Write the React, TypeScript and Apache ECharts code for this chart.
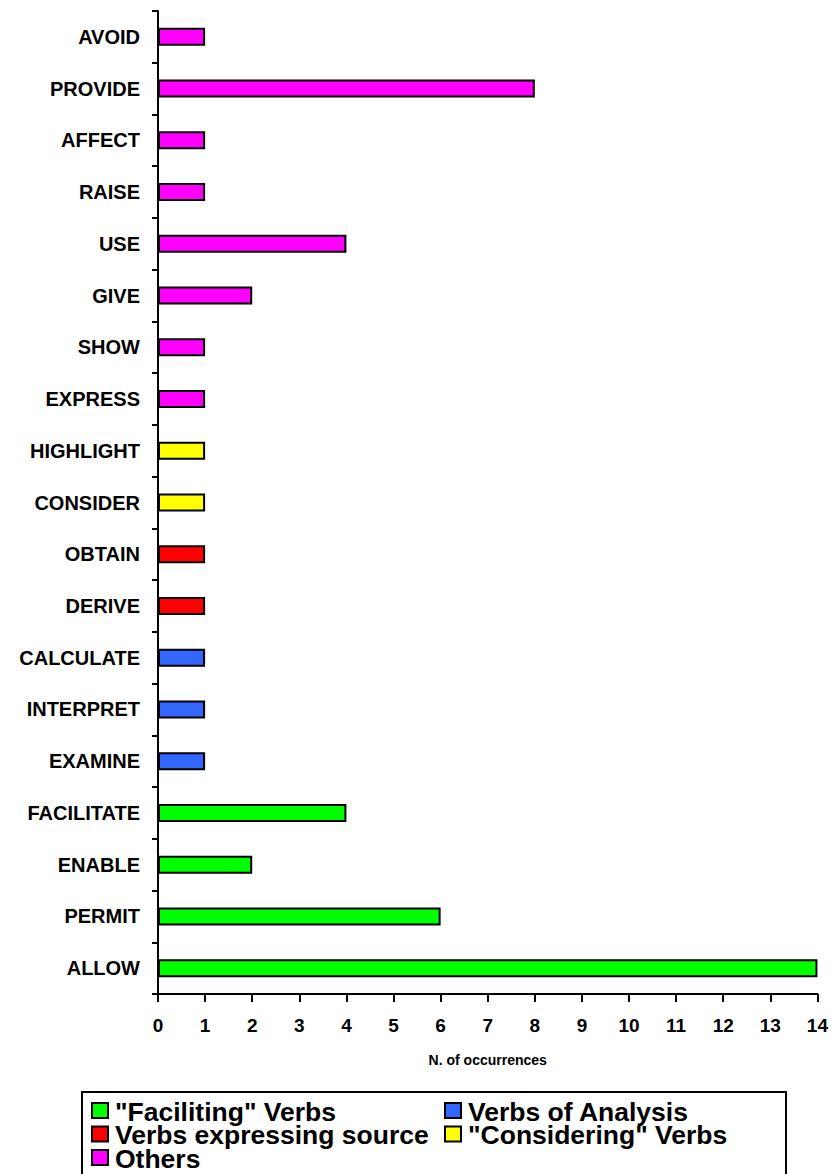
import React, { useEffect, useRef } from "react";
import * as echarts from "echarts";

// Categories listed bottom to top (as on the category axis)
const categories = [
  "ALLOW", "PERMIT", "ENABLE", "FACILITATE",
  "EXAMINE", "INTERPRET", "CALCULATE",
  "DERIVE", "OBTAIN",
  "CONSIDER", "HIGHLIGHT",
  "EXPRESS", "SHOW", "GIVE", "USE", "RAISE", "AFFECT", "PROVIDE", "AVOID",
];
const values = [14, 6, 2, 4, 1, 1, 1, 1, 1, 1, 1, 1, 1, 2, 4, 1, 1, 8, 1];
// group index of each category
const groupOf = [0, 0, 0, 0, 1, 1, 1, 2, 2, 3, 3, 4, 4, 4, 4, 4, 4, 4, 4];
const groupNames = [
  '"Faciliting" Verbs',
  "Verbs of Analysis",
  "Verbs expressing source",
  '"Considering" Verbs',
  "Others",
];
const groupColors = ["#00ff00", "#3366ff", "#ff0000", "#ffff00", "#ff00ff"];
const xTicks = [0, 14, 1]; // min, max, interval
const xName = "N. of occurrences";

const FONT = "'Liberation Sans', Arial, Helvetica, sans-serif";

export default function App() {
  const ref = useRef<HTMLDivElement>(null);
  useEffect(() => {
    if (!ref.current) return;
    const chart = echarts.init(ref.current, undefined, { renderer: "svg" });
    const series = groupNames.map((name, g) => ({
      name,
      type: "bar",
      stack: "all",
      barWidth: 18,
      itemStyle: { color: groupColors[g], borderColor: "#000", borderWidth: 2 },
      data: values.map((v, i) => (groupOf[i] === g ? v : null)),
    }));

    // legend drawn as graphic: two columns, rows top-down
    const legendSlots = [
      { g: 0, col: 0, row: 0 },
      { g: 1, col: 1, row: 0 },
      { g: 2, col: 0, row: 1 },
      { g: 3, col: 1, row: 1 },
      { g: 4, col: 0, row: 2 },
    ];
    const colX = [92, 445];
    const rowY = [1110.5, 1134, 1157.5];
    const legendGraphics: any[] = [
      {
        type: "rect",
        shape: { x: 82, y: 1092, width: 704, height: 120 },
        style: { fill: "#fff", stroke: "#000", lineWidth: 2 },
        z: 10,
      },
    ];
    legendSlots.forEach(({ g, col, row }) => {
      legendGraphics.push({
        type: "rect",
        shape: { x: colX[col], y: rowY[row] - 7.5, width: 16, height: 15 },
        style: { fill: groupColors[g], stroke: "#000", lineWidth: 2 },
        z: 11,
      });
      legendGraphics.push({
        type: "text",
        x: colX[col] + 23,
        y: rowY[row] + 1,
        style: {
          text: groupNames[g],
          fontFamily: FONT,
          fontWeight: "bold",
          fontSize: 26.5,
          fill: "#000",
          verticalAlign: "middle",
          align: "left",
        },
        z: 11,
      });
    });

    chart.setOption({
      animation: false,
      backgroundColor: "#fff",
      textStyle: { fontFamily: FONT },
      grid: { left: 158, top: 11, width: 662, height: 983, containLabel: false },
      xAxis: {
        type: "value",
        min: xTicks[0],
        max: xTicks[1],
        interval: xTicks[2],
        name: xName,
        nameLocation: "middle",
        nameGap: 59,
        nameTextStyle: { fontFamily: FONT, fontWeight: "bold", fontSize: 14, color: "#000" },
        axisLine: { show: true, lineStyle: { color: "#000", width: 2 } },
        axisTick: { show: true, inside: false, length: 8, lineStyle: { color: "#000", width: 2 } },
        splitLine: { show: false },
        axisLabel: { fontFamily: FONT, fontWeight: "bold", fontSize: 19, color: "#000", margin: 22 },
      },
      yAxis: {
        type: "category",
        data: categories,
        axisLine: { show: true, lineStyle: { color: "#000", width: 2 } },
        axisTick: { show: true, inside: false, length: 6, alignWithLabel: false, lineStyle: { color: "#000", width: 2 } },
        axisLabel: { fontFamily: FONT, fontWeight: "bold", fontSize: 20, color: "#000", margin: 18 },
        splitLine: { show: false },
      },
      graphic: legendGraphics,
      series,
    });
    return () => chart.dispose();
  }, []);
  return (
    <div
      ref={ref}
      style={{ position: "fixed", left: 0, top: 0, width: 831, height: 1174 }}
    />
  );
}
